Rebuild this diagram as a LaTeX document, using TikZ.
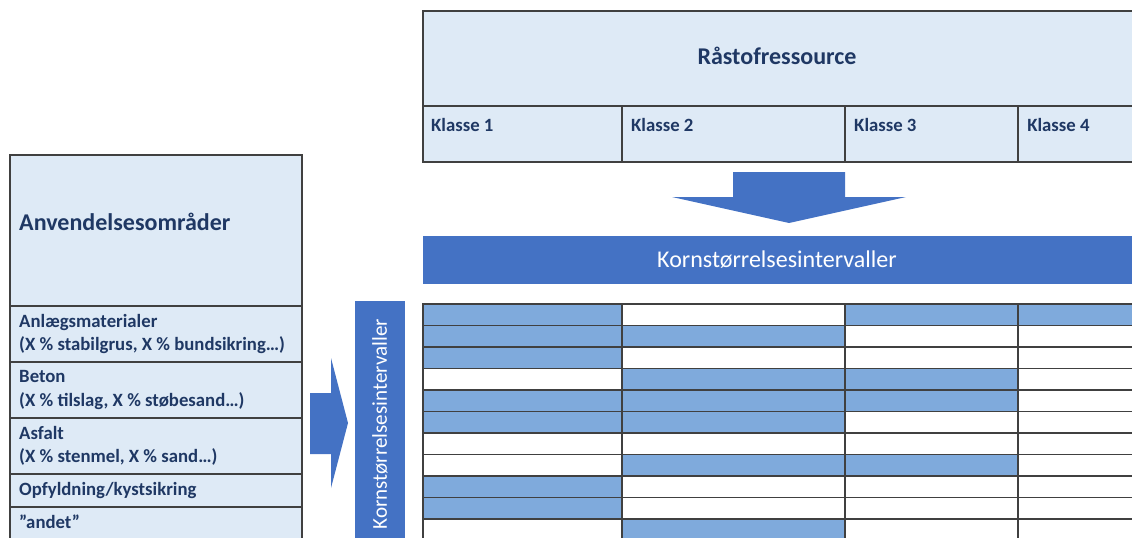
\documentclass[tikz,border=0pt]{standalone}
\usepackage{fontspec}
\setmainfont{Carlito}
\definecolor{boxfill}{HTML}{DEEAF6}
\definecolor{barblue}{HTML}{4472C4}
\definecolor{cellblue}{HTML}{7FAADC}
\definecolor{navytext}{HTML}{1F3864}
\tikzset{
    lightbox/.style={fill=boxfill, draw=black!75, line width=1pt},
    gridline/.style={draw=black!75, line width=0.9pt},
    boldlabel/.style={text=navytext, font=\bfseries\fontsize{16}{20}\selectfont, inner sep=0pt},
    titlelabel/.style={text=navytext, font=\bfseries\fontsize{20.5}{24}\selectfont, inner sep=0pt},
    blocklabel/.style={text=white, font=\fontsize{20.5}{24}\selectfont, inner sep=0pt}
}

\begin{document}
\begin{tikzpicture}[x=0.03cm, y=-0.03cm]
        \useasboundingbox (0,0) rectangle (1132,538);
        \clip (0,0) rectangle (1132,538);

        \draw[lightbox] (423,11) rectangle (1145,162);
        \draw[gridline] (423,106) -- (1145,106);
        \foreach \xd in {622,845,1018} {
            \draw[gridline] (\xd,106) -- (\xd,162);
        }
        \node[titlelabel] (raastof) at (777,56) {Råstofressource};
        \foreach \i/\xk in {1/431,2/631,3/854,4/1027} {
            \node[boldlabel, anchor=west] (klasse\i) at (\xk,125) {Klasse \i};
        }

        \fill[barblue] (733,172) -- (845,172) -- (845,197) -- (906,197)
            -- (789,223) -- (672,197) -- (733,197) -- cycle;

        \fill[barblue] (423,236) rectangle (1145,284);
        \node[blocklabel] (kornvand) at (777,260) {Kornstørrelsesintervaller};

        \draw[lightbox] (10,155) rectangle (302,545);
        \foreach \yd in {306,362,418,474,507} {
            \draw[gridline] (10,\yd) -- (302,\yd);
        }
        \node[titlelabel, anchor=west] (anv) at (19,222) {Anvendelsesområder};
        \node[boldlabel, anchor=west, align=left] (anlaeg) at (19,334)
            {Anlægsmaterialer\\(X \% stabilgrus, X \% bundsikring…)};
        \node[boldlabel, anchor=west, align=left] (beton) at (19,390)
            {Beton\\(X \% tilslag, X \% støbesand…)};
        \node[boldlabel, anchor=west, align=left] (asfalt) at (19,446)
            {Asfalt\\(X \% stenmel, X \% sand…)};
        \node[boldlabel, anchor=west] (opfyld) at (19,491) {Opfyldning/kystsikring};
        \node[boldlabel, anchor=west] (andet) at (19,522) {”andet”};

        \fill[barblue] (310,393) -- (331,393) -- (331,358) -- (348,423)
            -- (331,488) -- (331,454) -- (310,454) -- cycle;

        \fill[barblue] (355,301) rectangle (405,545);
        \node[blocklabel, rotate=90, font=\fontsize{18}{22}\selectfont] (kornlod) at (380,424)
            {Kornstørrelsesintervaller};

        \foreach \row/\a/\b/\c/\d in {0/1/0/1/1, 1/1/1/0/0, 2/1/0/0/0, 3/0/1/1/0,
                4/1/1/1/0, 5/1/1/0/0, 6/0/0/0/0, 7/0/1/1/0, 8/1/0/0/0, 9/1/0/0/0, 10/0/1/0/0} {
            \pgfmathsetmacro{\ytop}{304 + 21.5*\row}
            \pgfmathsetmacro{\ybot}{\ytop + 21.5}
            \foreach \xl/\xr/\f in {423/622/\a, 622/845/\b, 845/1018/\c, 1018/1145/\d} {
                \ifnum\f=1 \fill[cellblue] (\xl,\ytop) rectangle (\xr,\ybot); \fi
                \draw[gridline] (\xl,\ytop) rectangle (\xr,\ybot);
            }
        }
    \end{tikzpicture}
\end{document}
